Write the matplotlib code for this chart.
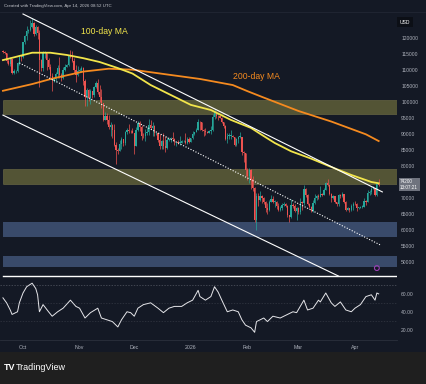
import matplotlib
matplotlib.use('Agg')
import matplotlib.pyplot as plt
import matplotlib.dates as mdates
from matplotlib.patches import Rectangle
import pandas as pd

plt.rcParams['font.family'] = ['Liberation Sans', 'DejaVu Sans']

# daily candles, thousands of USD, starting 2025-09-20
start_date = '2025-09-20'
first_open = 115.9
closes = [115.7, 115.3, 112.7, 112.0, 113.3, 109.0, 109.6, 109.7, 112.1, 114.4, 114.0,
          118.6, 120.6, 122.2, 122.4, 123.5, 124.8, 121.4, 123.3, 121.7, 113.2, 110.7,
          115.2, 115.3, 113.0, 110.8, 108.2, 106.5, 107.2, 108.7, 110.6, 108.5, 107.6,
          110.1, 111.0, 111.6, 114.5, 114.1, 112.9, 110.0, 108.3, 109.6,
          110.1, 110.6, 106.5, 101.6, 103.9, 101.3, 103.3, 102.3, 104.7, 106.0, 103.0,
          101.6, 99.7, 94.5, 95.6, 94.3, 92.2, 92.9, 91.3, 86.6, 85.1, 84.7, 86.8, 88.3,
          87.3, 90.5, 91.3, 90.9, 90.8, 90.4,
          86.3, 91.3, 93.5, 92.1, 89.4, 89.3, 90.4, 90.6, 92.7, 92.0, 92.5, 90.3, 90.3,
          88.2, 86.4, 87.8, 86.2, 85.5, 88.1, 88.3, 88.6, 88.5, 87.4, 87.6, 87.2, 87.3,
          87.8, 87.8, 87.1, 88.4, 87.6,
          88.7, 90.0, 90.6, 91.4, 93.8, 93.7, 91.3, 91.0, 90.6, 90.4, 90.8, 91.2, 95.3,
          97.0, 95.6, 95.5, 95.1, 93.6, 92.6, 88.3, 89.4, 89.5, 89.5, 89.2, 86.6, 88.3,
          89.2, 89.2, 84.5, 84.1, 78.6,
          77.0, 78.7, 75.8, 73.1, 63.0, 70.5, 69.3, 70.6, 70.1, 68.8, 67.0, 66.2, 68.8,
          69.8, 68.8, 68.9, 67.5, 66.4, 66.9, 67.9, 68.0, 67.6, 64.6, 64.0, 67.9, 67.5,
          65.9, 67.0,
          65.7, 68.8, 68.3, 72.8, 70.9, 68.0, 67.3, 66.0, 68.4, 69.9, 70.5, 70.4, 71.2,
          70.9, 72.6, 74.8, 74.0, 71.2, 69.9, 70.5, 68.6, 68.0, 70.9, 70.5, 71.3, 68.8,
          66.3, 66.8, 66.2, 67.6, 68.2,
          68.1, 66.9, 66.9, 67.2, 67.3, 69.0, 68.8, 71.6, 71.8, 72.9, 73.0, 71.0, 74.5,
          74.2]
highs = [116.1, 115.9, 115.4, 113.3, 114.0, 113.5, 110.3, 110.0, 112.4, 114.5, 114.8,
         118.7, 121.0, 123.9, 122.9, 125.7, 126.2, 125.1, 124.2, 123.8, 122.5, 113.5,
         115.8, 116.0, 115.4, 113.6, 111.8, 109.2, 107.5, 109.4, 111.7, 114.0, 109.1,
         111.0, 112.0, 111.9, 114.6, 116.1, 116.0, 113.6, 111.6, 111.2,
         110.5, 111.2, 110.8, 107.3, 104.5, 104.2, 104.0, 103.4, 105.0, 106.7, 107.3,
         105.3, 104.1, 99.8, 96.8, 96.6, 96.0, 93.8, 93.0, 93.2, 87.4, 85.6, 88.1, 89.2,
         88.5, 91.0, 91.9, 93.1, 91.2, 92.0,
         90.4, 92.3, 94.2, 94.1, 92.7, 90.3, 91.7, 92.3, 94.6, 94.5, 93.6, 92.8, 90.7,
         90.4, 90.0, 88.1, 90.3, 89.4, 89.0, 88.5, 89.0, 90.6, 88.9, 87.9, 88.0, 89.5,
         88.0, 88.1, 90.3, 89.2, 89.0,
         88.9, 90.9, 90.7, 91.8, 94.7, 94.0, 93.8, 91.6, 91.9, 90.8, 91.2, 92.4, 96.2,
         97.9, 97.2, 95.8, 95.6, 95.4, 93.6, 92.8, 90.4, 90.4, 91.1, 89.8, 89.2, 88.9,
         89.5, 90.6, 89.2, 84.6, 84.2,
         79.3, 79.3, 79.2, 76.9, 73.3, 71.6, 71.6, 72.1, 71.0, 70.4, 69.2, 68.3, 69.3,
         70.9, 70.5, 69.3, 69.0, 68.4, 67.4, 68.3, 68.6, 68.3, 67.8, 64.8, 69.6, 68.4,
         68.1, 67.3,
         67.2, 70.0, 69.0, 74.0, 73.2, 71.2, 68.4, 67.6, 69.3, 71.3, 70.9, 71.1, 73.7,
         71.5, 73.0, 75.0, 76.0, 74.2, 71.5, 71.0, 70.7, 68.9, 71.4, 71.2, 72.0, 71.4,
         69.1, 67.1, 67.0, 68.1, 68.6,
         69.2, 68.4, 67.3, 67.5, 67.9, 69.9, 69.3, 72.6, 72.4, 73.3, 73.7, 73.2, 74.9,
         76.0]
lows = [115.4, 115.1, 112.1, 111.5, 111.1, 108.7, 108.6, 109.1, 109.4, 111.6, 112.7,
        113.9, 118.2, 119.3, 121.6, 122.2, 123.1, 120.6, 121.0, 119.7, 104.6, 109.7,
        109.6, 113.9, 110.0, 110.2, 107.5, 103.5, 106.4, 106.1, 107.5, 107.4, 106.6,
        107.3, 109.7, 110.8, 111.2, 113.8, 112.5, 109.2, 106.3, 108.0,
        109.4, 109.5, 105.3, 98.9, 98.9, 100.3, 99.3, 101.4, 101.5, 104.3, 102.5,
        100.1, 98.0, 94.0, 94.5, 93.0, 91.5, 89.3, 88.6, 86.1, 80.6, 83.6, 84.6, 85.3,
        86.2, 86.5, 90.1, 90.2, 90.3, 90.3,
        83.8, 86.2, 91.0, 90.9, 88.1, 88.9, 87.7, 89.6, 89.7, 91.6, 89.3, 89.5, 89.8,
        87.6, 85.2, 85.3, 85.3, 84.5, 85.2, 87.9, 87.6, 88.0, 86.6, 86.4, 86.9, 86.6,
        87.2, 87.4, 86.8, 86.8, 87.3,
        87.5, 88.3, 89.6, 90.5, 91.3, 91.3, 90.9, 89.3, 89.7, 90.2, 90.2, 90.1, 91.0,
        94.6, 95.1, 94.3, 94.9, 93.4, 91.9, 88.0, 87.3, 88.5, 88.4, 89.0, 86.3, 86.1,
        87.3, 88.8, 83.4, 81.1, 77.0,
        75.7, 74.6, 72.9, 72.1, 62.4, 60.1, 67.5, 69.0, 68.4, 68.1, 65.7, 65.1, 65.8,
        68.7, 68.4, 67.3, 66.6, 65.8, 65.9, 66.4, 67.6, 67.2, 64.0, 62.5, 63.9, 66.8,
        65.5, 63.2,
        65.1, 65.0, 66.2, 67.9, 70.2, 67.9, 67.0, 65.7, 65.7, 68.1, 69.3, 69.6, 70.3,
        70.6, 70.8, 72.4, 73.6, 70.8, 68.9, 69.6, 68.4, 67.4, 67.6, 69.9, 70.2, 68.5,
        65.9, 66.1, 65.6, 66.0, 66.2,
        67.8, 65.9, 66.5, 66.8, 66.9, 67.1, 67.8, 68.6, 70.8, 71.4, 72.7, 70.6, 70.7,
        73.8]

# moving averages (thousands)
ma100_dates = ['2025-09-20', '2025-09-25', '2025-10-06', '2025-10-16', '2025-10-25',
               '2025-11-03', '2025-11-12', '2025-11-22', '2025-11-30', '2025-12-10',
               '2025-12-21', '2026-01-01', '2026-01-12', '2026-01-23', '2026-02-03',
               '2026-02-09', '2026-02-16', '2026-02-25', '2026-03-08', '2026-03-19',
               '2026-03-30', '2026-04-10', '2026-04-14']
ma100_vals = [113.1, 113.8, 115.4, 115.4, 114.7, 113.7, 112.5, 110.6, 108.9, 105.3,
              102.2, 99.1, 97.5, 94.4, 91.9, 89.7, 87.2, 84.6, 82.3, 79.7, 77.2, 75.0, 74.6]
ma200_dates = ['2025-09-20', '2025-10-06', '2025-10-17', '2025-11-03', '2025-11-17',
               '2025-11-30', '2025-12-19', '2026-01-06', '2026-01-24', '2026-02-01',
               '2026-02-09', '2026-03-01', '2026-03-19', '2026-04-07', '2026-04-14']
ma200_vals = [103.5, 105.6, 107.3, 109.5, 110.4, 110.1, 108.6, 107.2, 105.3, 103.4,
              101.6, 97.2, 93.9, 89.9, 87.8]

# RSI
rsi_dates = ['2025-09-20', '2025-09-22', '2025-09-24', '2025-09-25', '2025-09-28',
             '2025-09-29', '2025-10-01', '2025-10-03', '2025-10-06', '2025-10-08',
             '2025-10-09', '2025-10-10', '2025-10-12', '2025-10-15', '2025-10-17',
             '2025-10-20', '2025-10-23', '2025-10-27', '2025-10-30', '2025-11-01',
             '2025-11-04', '2025-11-07', '2025-11-11', '2025-11-13', '2025-11-16',
             '2025-11-19', '2025-11-22', '2025-11-24', '2025-11-27', '2025-11-29',
             '2025-12-01', '2025-12-03', '2025-12-06', '2025-12-10', '2025-12-14',
             '2025-12-17', '2025-12-20', '2025-12-23', '2025-12-27', '2025-12-30',
             '2026-01-02', '2026-01-05', '2026-01-06', '2026-01-09', '2026-01-12',
             '2026-01-14', '2026-01-16', '2026-01-18', '2026-01-21', '2026-01-24',
             '2026-01-27', '2026-01-29', '2026-01-31', '2026-02-03', '2026-02-05',
             '2026-02-06', '2026-02-08', '2026-02-10', '2026-02-12', '2026-02-15',
             '2026-02-19', '2026-02-23', '2026-02-26', '2026-02-28', '2026-03-04',
             '2026-03-06', '2026-03-09', '2026-03-12', '2026-03-13', '2026-03-16',
             '2026-03-19', '2026-03-21', '2026-03-24', '2026-03-27', '2026-03-30',
             '2026-04-01', '2026-04-04', '2026-04-07', '2026-04-10', '2026-04-12',
             '2026-04-13', '2026-04-14']
rsi_vals = [55.6, 50, 42, 37, 40, 50, 61, 68, 72, 66, 59, 40, 48, 40, 35, 40, 44, 53,
            46, 44, 33, 39, 44, 33, 31, 29, 23, 31, 40, 39, 35, 44, 48, 50, 44, 39, 44,
            46, 46, 50, 53, 64, 57, 53, 57, 68, 62, 53, 40, 42, 40, 31, 25, 22, 17, 29,
            31, 33, 29, 35, 33, 37, 40, 39, 53, 42, 44, 53, 51, 61, 50, 46, 51, 42, 40,
            44, 48, 57, 59, 53, 61, 60]

# zones (thousands) and drawn lines
yellow_zones = [(96.2, 100.6), (74.4, 79.1)]
blue_zones = [(57.7, 62.6), (48.5, 51.9)]
upper_line = (['2025-10-01', '2026-04-16'], [127.5, 71.9])
lower_line = (['2025-09-20', '2026-03-23'], [95.9, 45.6])
mid_line = (['2025-09-29', '2026-04-15'], [112.2, 55.3])
floor_line = 45.6

month_ticks = ['2025-10-01', '2025-11-01', '2025-12-01', '2026-01-01', '2026-02-01',
               '2026-03-01', '2026-04-01']
month_labels = ['Oct', 'Nov', 'Dec', '2026', 'Feb', 'Mar', 'Apr']

BG = '#141925'
GREEN = '#26a69a'
RED = '#ef5350'
TXT = '#aeb2bc'

def dn(d):
    return mdates.date2num(pd.Timestamp(d))

n = len(closes)
dates = pd.date_range(start_date, periods=n, freq='D')
x = mdates.date2num(dates)
opens = [first_open] + closes[:-1]

fig = plt.figure(figsize=(4.27, 3.84), dpi=100, facecolor='#1f1f1f')
fig.patches.append(Rectangle((0, 32 / 384), 1, 352 / 384, transform=fig.transFigure,
                             facecolor=BG, edgecolor='none', zorder=-5))

W, H = 427, 384
ax = fig.add_axes([0, 1 - 278 / H, 397 / W, 266 / H])
ax2 = fig.add_axes([0, 1 - 339 / H, 397 / W, 61 / H])
for a in (ax, ax2):
    a.set_facecolor(BG)
    for s in a.spines.values():
        s.set_visible(False)

x0 = dn('2025-10-01') - 23 / 1.824
x1 = dn('2025-10-01') + (397 - 23) / 1.824

# zones
for lo, hi in yellow_zones:
    ax.axhspan(lo * 1000, hi * 1000, xmin=0.008, xmax=1, facecolor='#e6dd5c', alpha=0.3,
               edgecolor='#bdb565', lw=0.6, zorder=1)
for lo, hi in blue_zones:
    ax.axhspan(lo * 1000, hi * 1000, xmin=0.008, xmax=1, facecolor='#6d8fcb', alpha=0.42,
               edgecolor='none', zorder=1)

# candles
cols = [GREEN if c >= o else RED for o, c in zip(opens, closes)]
ax.vlines(x, [v * 1000 for v in lows], [v * 1000 for v in highs], colors=cols, lw=0.5, zorder=3)
bot = [min(o, c) * 1000 for o, c in zip(opens, closes)]
hgt = [max(abs(c - o) * 1000, 150) for o, c in zip(opens, closes)]
ax.bar(x, hgt, bottom=bot, width=0.7, color=cols, lw=0, zorder=4)

# moving averages
ax.plot([dn(d) for d in ma200_dates], [v * 1000 for v in ma200_vals], color='#f58a1f', lw=1.3, zorder=5)
ax.plot([dn(d) for d in ma100_dates], [v * 1000 for v in ma100_vals], color='#f2e54b', lw=1.3, zorder=5)

# trend lines
for (dd, vv), ls in ((upper_line, '-'), (lower_line, '-'), (mid_line, (0, (1, 1.5)))):
    ax.plot([dn(d) for d in dd], [v * 1000 for v in vv], color='white', lw=0.8, ls=ls, zorder=6)
ax.axhline(floor_line * 1000, xmin=0.008, xmax=1, color='white', lw=1.0, zorder=6)

ax.text(0.262, 0.925, '100-day MA', transform=ax.transAxes, color='#f2e54b', fontsize=6.2,
        ha='center', va='center')
ax.text(0.647, 0.759, '200-day MA', transform=ax.transAxes, color='#f58a1f', fontsize=6.2,
        ha='center', va='center')
ax.scatter([dn('2026-04-13')], [48100], s=12, facecolor='none', edgecolor='#9c3fb5', lw=0.8, zorder=7)

ax.set_xlim(x0, x1)
ax.set_ylim(45000, 128125)
ax.set_xticks([])
ax.yaxis.tick_right()
ticks = [t for t in range(50000, 125000, 5000) if t != 75000]
ax.set_yticks(ticks)
ax.set_yticklabels([f'{t}' for t in ticks])
ax.tick_params(axis='y', length=0, pad=3, labelsize=3.6, colors=TXT)

# price boxes on the axis
last = closes[-1] * 1000
ax.text(1.008, (last - 45000) / (128125 - 45000), f'{last:.0f}\n13:07:21', transform=ax.transAxes,
        fontsize=3.3, color='white', ha='left', va='center', linespacing=1.1, zorder=9,
        bbox=dict(boxstyle='square,pad=0.35', facecolor='#6f737e', edgecolor='none'))
fig.text(400 / W, 1 - 22 / H, 'USD', fontsize=3.6, color='white', ha='left', va='center',
         bbox=dict(boxstyle='square,pad=0.5', facecolor='#0c0f16', edgecolor='none'))

# RSI pane
ax2.plot([dn(d) for d in rsi_dates], rsi_vals, color='#e6e6ea', lw=0.7)
for lvl, al in ((70, 0.5), (50, 0.25), (30, 0.25)):
    ax2.axhline(lvl, color='#9598a1', lw=0.5, ls=(0, (2, 2)), alpha=al)
ax2.set_xlim(x0, x1)
ax2.set_ylim(9.5, 77.8)
ax2.yaxis.tick_right()
ax2.set_yticks([20, 40, 60])
ax2.set_yticklabels(['20.00', '40.00', '60.00'])
ax2.tick_params(axis='y', length=0, pad=3, labelsize=3.6, colors=TXT)
ax2.set_xticks([dn(d) for d in month_ticks])
ax2.set_xticklabels(month_labels)
ax2.tick_params(axis='x', length=0, pad=4, labelsize=3.8, colors=TXT)

fig.add_artist(plt.Line2D([0, 397 / W], [1 - 340 / H] * 2, transform=fig.transFigure,
                          color='#2b303c', lw=0.6))
fig.add_artist(plt.Line2D([0, 1], [1 - 12 / H] * 2, transform=fig.transFigure,
                          color='#222734', lw=0.6))

fig.text(4 / W, 1 - 5.5 / H, 'Created with TradingView.com, Apr 14, 2026 08:52 UTC',
         fontsize=3.2, color='#c4c6cc', ha='left', va='center')
fig.text(4 / W, 1 - 368 / H, 'TV', fontsize=6.5, color='white', weight='bold',
         ha='left', va='center')
fig.text(16 / W, 1 - 368 / H, 'TradingView', fontsize=6.5, color='white', ha='left', va='center')

fig.savefig('out.png', dpi=100, facecolor=fig.get_facecolor())
